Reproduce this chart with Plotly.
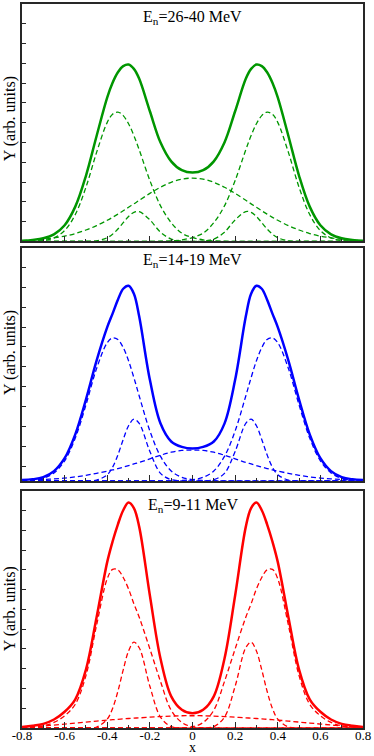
import plotly.graph_objects as go

# x grid shared by all curves
X = [-0.8, -0.75, -0.7, -0.65, -0.6, -0.55, -0.5, -0.45, -0.4, -0.375, -0.35, -0.325, -0.3, -0.275, -0.25,
     -0.2, -0.15, -0.1, -0.05, 0, 0.05, 0.1, 0.15, 0.2, 0.25, 0.275, 0.3, 0.325, 0.35, 0.375, 0.4,
     0.45, 0.5, 0.55, 0.6, 0.65, 0.7, 0.75, 0.8]

XTICK_VALS = [-0.8, -0.6, -0.4, -0.2, 0, 0.2, 0.4, 0.6, 0.8]
XTICK_LABELS = ['-0.8', '-0.6', '-0.4', '-0.2', '0', '0.2', '0.4', '0.6', '0.8']

TITLES = ['E<sub>n</sub>=26-40 MeV', 'E<sub>n</sub>=14-19 MeV', 'E<sub>n</sub>=9-11 MeV']

# En = 26-40 MeV
total_1 = [0.04, 0.08, 0.16, 0.36, 0.82, 1.76, 3.32, 5.33, 7.28, 8.02, 8.55, 8.86, 8.94, 8.72, 8.22,
           6.58, 5.0, 4.05, 3.6, 3.48, 3.6, 4.05, 5.0, 6.58, 8.22, 8.72, 8.94, 8.86, 8.55, 8.02, 7.28,
           5.33, 3.32, 1.76, 0.82, 0.36, 0.16, 0.08, 0.04]
big_left_1 = [0.0, 0.01, 0.05, 0.18, 0.55, 1.36, 2.74, 4.5, 6.02, 6.43, 6.54, 6.36, 5.95, 5.35, 4.63,
              3.08, 1.8, 0.95, 0.42, 0.2, 0.08, 0.03, 0.01, 0, 0, 0, 0, 0, 0, 0, 0,
              0, 0, 0, 0, 0, 0, 0, 0]
big_right_1 = [0, 0, 0, 0, 0, 0, 0, 0, 0, 0, 0, 0, 0, 0, 0,
               0, 0.01, 0.03, 0.08, 0.2, 0.42, 0.95, 1.8, 3.08, 4.63, 5.35, 5.95, 6.36, 6.54, 6.43, 6.02,
               4.5, 2.74, 1.36, 0.55, 0.18, 0.05, 0.01, 0.0]
small_left_1 = [0, 0, 0, 0, 0, 0, 0, 0.03, 0.19, 0.37, 0.63, 0.95, 1.26, 1.47, 1.51,
                1.09, 0.47, 0.12, 0.02, 0, 0, 0, 0, 0, 0, 0, 0, 0, 0, 0, 0,
                0, 0, 0, 0, 0, 0, 0, 0]
small_right_1 = [0, 0, 0, 0, 0, 0, 0, 0, 0, 0, 0, 0, 0, 0, 0,
                 0, 0, 0, 0, 0, 0.02, 0.12, 0.47, 1.09, 1.51, 1.47, 1.26, 0.95, 0.63, 0.37, 0.19,
                 0.03, 0, 0, 0, 0, 0, 0, 0]
broad_1 = [0.04, 0.07, 0.11, 0.18, 0.27, 0.4, 0.58, 0.8, 1.07, 1.22, 1.38, 1.55, 1.73, 1.9, 2.08,
           2.43, 2.74, 2.99, 3.15, 3.2, 3.15, 2.99, 2.74, 2.43, 2.08, 1.9, 1.73, 1.55, 1.38, 1.22, 1.07,
           0.8, 0.58, 0.4, 0.27, 0.18, 0.11, 0.07, 0.04]

# En = 14-19 MeV
total_2 = [0.03, 0.07, 0.18, 0.48, 1.13, 2.33, 4.08, 6.04, 7.72, 8.4, 9.1, 9.65, 9.8, 9.4, 8.25,
           5.07, 2.87, 1.97, 1.7, 1.62, 1.7, 1.97, 2.87, 5.07, 8.25, 9.4, 9.8, 9.65, 9.1, 8.4, 7.72,
           6.04, 4.08, 2.33, 1.13, 0.48, 0.18, 0.07, 0.03]
big_left_2 = [0.01, 0.03, 0.12, 0.39, 1.0, 2.14, 3.81, 5.64, 6.94, 7.18, 7.1, 6.69, 6.03, 5.18, 4.26,
              2.5, 1.22, 0.49, 0.17, 0.05, 0.01, 0, 0, 0, 0, 0, 0, 0, 0, 0, 0,
              0, 0, 0, 0, 0, 0, 0, 0]
big_right_2 = [0, 0, 0, 0, 0, 0, 0, 0, 0, 0, 0, 0, 0, 0, 0,
               0, 0, 0, 0.01, 0.05, 0.17, 0.49, 1.22, 2.5, 4.26, 5.18, 6.03, 6.69, 7.1, 7.18, 6.94,
               5.64, 3.81, 2.14, 1.0, 0.39, 0.12, 0.03, 0.01]
small_left_2 = [0, 0, 0, 0, 0, 0, 0, 0.03, 0.3, 0.68, 1.3, 2.07, 2.76, 3.09, 2.88,
                1.47, 0.37, 0.05, 0, 0, 0, 0, 0, 0, 0, 0, 0, 0, 0, 0, 0,
                0, 0, 0, 0, 0, 0, 0, 0]
small_right_2 = [0, 0, 0, 0, 0, 0, 0, 0, 0, 0, 0, 0, 0, 0, 0,
                 0, 0, 0, 0, 0, 0, 0.05, 0.37, 1.47, 2.88, 3.09, 2.76, 2.07, 1.3, 0.68, 0.3,
                 0.03, 0, 0, 0, 0, 0, 0, 0]
broad_2 = [0.02, 0.04, 0.06, 0.09, 0.13, 0.19, 0.27, 0.37, 0.48, 0.54, 0.61, 0.68, 0.76, 0.84, 0.92,
           1.1, 1.28, 1.43, 1.52, 1.54, 1.52, 1.43, 1.28, 1.1, 0.92, 0.84, 0.76, 0.68, 0.61, 0.54, 0.48,
           0.37, 0.27, 0.19, 0.13, 0.09, 0.06, 0.04, 0.02]

# En = 9-11 MeV
total_3 = [0.05, 0.11, 0.21, 0.43, 0.82, 1.45, 2.95, 5.6, 8.4, 9.43, 10.3, 11.01, 11.4, 11.12, 10.17,
           6.7, 3.5, 1.6, 0.92, 0.74, 0.92, 1.6, 3.5, 6.7, 10.17, 11.12, 11.4, 11.01, 10.3, 9.43, 8.4,
           5.6, 2.95, 1.45, 0.82, 0.43, 0.21, 0.11, 0.05]
big_left_3 = [0.01, 0.04, 0.11, 0.28, 0.62, 1.2, 2.65, 5.2, 7.55, 8.02, 8.0, 7.61, 7.03, 6.28, 5.6,
              4.0, 2.35, 0.9, 0.28, 0.06, 0.01, 0, 0, 0, 0, 0, 0, 0, 0, 0, 0,
              0, 0, 0, 0, 0, 0, 0, 0]
big_right_3 = [0, 0, 0, 0, 0, 0, 0, 0, 0, 0, 0, 0, 0, 0, 0,
               0, 0, 0, 0.01, 0.06, 0.28, 0.9, 2.35, 4.0, 5.6, 6.28, 7.03, 7.61, 8.0, 8.02, 7.55,
               5.2, 2.65, 1.2, 0.62, 0.28, 0.11, 0.04, 0.01]
small_left_3 = [0, 0, 0, 0, 0, 0, 0, 0.05, 0.45, 0.99, 1.86, 2.94, 3.89, 4.34, 4.06,
                2.11, 0.55, 0.07, 0, 0, 0, 0, 0, 0, 0, 0, 0, 0, 0, 0, 0,
                0, 0, 0, 0, 0, 0, 0, 0]
small_right_3 = [0, 0, 0, 0, 0, 0, 0, 0, 0, 0, 0, 0, 0, 0, 0,
                 0, 0, 0, 0, 0, 0, 0.07, 0.55, 2.11, 4.06, 4.34, 3.89, 2.94, 1.86, 0.99, 0.45,
                 0.05, 0, 0, 0, 0, 0, 0, 0]
broad_3 = [0.04, 0.07, 0.1, 0.15, 0.2, 0.25, 0.3, 0.35, 0.4, 0.42, 0.44, 0.46, 0.48, 0.5, 0.51,
           0.55, 0.58, 0.6, 0.62, 0.62, 0.62, 0.6, 0.58, 0.55, 0.51, 0.5, 0.48, 0.46, 0.44, 0.42, 0.4,
           0.35, 0.3, 0.25, 0.2, 0.15, 0.1, 0.07, 0.04]

font_plot = 'Liberation Serif'
frame_color = 'rgb(40,40,40)'

# panel settings: color, y domain, y range top, first y tick
panels = [
    dict(color='rgb(0,150,0)', domain=[0.672, 1.0], ytop=12.0, tick0=0,
         curves=[big_left_1, big_right_1, small_left_1, small_right_1, broad_1], total=total_1),
    dict(color='rgb(0,0,255)', domain=[0.3416, 0.663], ytop=11.7, tick0=0.727,
         curves=[big_left_2, big_right_2, small_left_2, small_right_2, broad_2], total=total_2),
    dict(color='rgb(255,0,0)', domain=[0.0, 0.3278], ytop=12.0, tick0=0,
         curves=[big_left_3, big_right_3, small_left_3, small_right_3, broad_3], total=total_3),
]

fig = go.Figure()

for i, p in enumerate(panels):
    n = '' if i == 0 else str(i + 1)
    for c in p['curves']:
        fig.add_trace(go.Scatter(x=X, y=c, mode='lines', xaxis='x' + n, yaxis='y' + n,
                                 line=dict(color=p['color'], width=1.3, dash='5px,3px', shape='spline'),
                                 showlegend=False, hoverinfo='skip'))
    fig.add_trace(go.Scatter(x=X, y=p['total'], mode='lines', xaxis='x' + n, yaxis='y' + n,
                             line=dict(color=p['color'], width=2.5, shape='spline'),
                             showlegend=False, hoverinfo='skip'))

    fig.update_layout(**{
        'xaxis' + n: dict(domain=[0, 1], anchor='y' + n, range=[-0.8, 0.8],
                          tickvals=XTICK_VALS, ticktext=XTICK_LABELS,
                          showticklabels=(i == 2), ticks='inside', ticklen=6, tickwidth=1.2,
                          tickcolor=frame_color, ticklabelstandoff=-5,
                          minor=dict(dtick=0.1, tick0=-0.8, ticks='inside', ticklen=3, tickwidth=1,
                                     tickcolor=frame_color),
                          showline=True, mirror=True, linecolor=frame_color, linewidth=1.5,
                          showgrid=False, zeroline=False,
                          tickfont=dict(family=font_plot, size=13, color='black')),
        'yaxis' + n: dict(domain=p['domain'], anchor='x' + n, range=[0, p['ytop']],
                          tick0=p['tick0'], dtick=1, ticks='inside', ticklen=4, tickwidth=1.2,
                          tickcolor=frame_color, showticklabels=False,
                          showline=True, mirror=True, linecolor=frame_color, linewidth=1.5,
                          showgrid=False, zeroline=False),
    })

# panel titles and axis titles
title_y = [0.982, 0.646, 0.307]
ytitle_y = [0.841, 0.518, 0.164]
for i in range(3):
    fig.add_annotation(text=TITLES[i], xref='paper', yref='paper', x=0.5, y=title_y[i],
                       showarrow=False, xanchor='center', yanchor='middle',
                       font=dict(family=font_plot, size=16, color='black'))
    fig.add_annotation(text='Y (arb. units)', xref='paper', yref='paper', x=-0.035, y=ytitle_y[i],
                       showarrow=False, textangle=-90, xanchor='center', yanchor='middle',
                       font=dict(family=font_plot, size=16, color='black'))

# x title sits on the bottom edge of the figure
fig.add_annotation(text='x', xref='paper', yref='paper', x=0.5, y=-0.0385,
                   showarrow=False, xanchor='center', yanchor='bottom', borderpad=0,
                   font=dict(family=font_plot, size=14, color='black'))

fig.update_layout(autosize=False, width=374, height=756,
                  margin=dict(l=22, r=11, t=2, b=28),
                  plot_bgcolor='white', paper_bgcolor='white',
                  font_family=font_plot)

# page body has a default margin; remove it so the figure sits at the top-left corner
fig.write_html("out.html", config={'displayModeBar': False},
               post_script="document.body.style.margin='0';document.body.style.overflow='hidden';")
